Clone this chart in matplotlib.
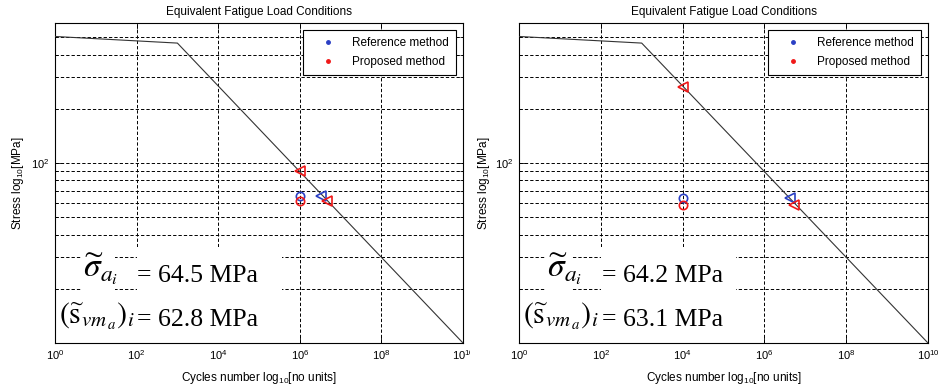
import matplotlib
matplotlib.use("Agg")
import matplotlib.pyplot as plt
from matplotlib.lines import Line2D
from matplotlib.patches import Rectangle
from matplotlib.ticker import FixedLocator, NullLocator, NullFormatter, LogLocator, LogFormatterSciNotation

plt.rcParams['font.family'] = ['Liberation Sans', 'DejaVu Sans']

# S-N curve (cycles, stress amplitude in MPa)
curve_cycles = [1.0, 1.0e3, 1.0e10]
curve_stress = [505.0, 464.0, 10.0]

# Equivalent cycle count used for the circles in each panel
eq_cycles = [1.0e6, 1.0e4]

# Reference method: equivalent stress and life on the S-N curve
ref_stress = [65.9, 63.6]
ref_life = [3.4e6, 4.2e6]

# Proposed method: equivalent stress and life on the S-N curve
prop_stress = [61.3, 58.8]
prop_life = [4.7e6, 5.2e6]

# Load level at the equivalent cycle count
load_stress = [90.0, 265.0]

# Values quoted in the annotations
sigma_values = [64.5, 64.2]
svm_values = [62.8, 63.1]

BLUE = '#2a3fc4'
RED = '#f01818'

fig = plt.figure(figsize=(9.38, 3.89), dpi=100)
ax_left = fig.add_axes([55 / 938, 46 / 389, 408 / 938, 320 / 389])
ax_right = fig.add_axes([519 / 938, 46 / 389, 409 / 938, 320 / 389])

panels = [
    (ax_left, 0, dict(sig_x=0.112, eq_x=0.201, s_x=0.010,
                      rects=[(0.064, 0.083), (0.201, 0.355)], rect_c=0.201,
                      ylab_x=-0.072)),
    (ax_right, 1, dict(sig_x=0.112, eq_x=0.203, s_x=0.010,
                       rects=[(0.064, 0.066), (0.200, 0.331)], rect_c=0.200,
                       ylab_x=-0.066)),
]

for ax, i, lay in panels:
    ax.set_xscale('log')
    ax.set_yscale('log')
    ax.set_xlim(1, 1e10)
    ax.set_ylim(10, 600)

    ax.xaxis.set_major_locator(FixedLocator([10.0 ** k for k in range(0, 11, 2)]))
    ax.xaxis.set_minor_locator(NullLocator())
    ax.xaxis.set_major_formatter(LogFormatterSciNotation())
    ax.yaxis.set_major_locator(FixedLocator([100.0]))
    ax.yaxis.set_minor_locator(LogLocator(base=10, subs=range(2, 10)))
    ax.yaxis.set_minor_formatter(NullFormatter())
    ax.yaxis.set_major_formatter(LogFormatterSciNotation())

    ax.tick_params(which='both', direction='in', top=True, right=True,
                   width=0.6, colors='black', labelsize=8)
    ax.tick_params(which='major', length=4, pad=4)
    ax.tick_params(which='minor', length=2)

    dash = (0, (3.4, 2.1))
    ax.grid(True, which='major', axis='both', linestyle=dash, linewidth=0.7, color='black')
    ax.grid(True, which='minor', axis='y', linestyle=dash, linewidth=0.7, color='black')

    for sp in ax.spines.values():
        sp.set_linewidth(0.8)
        sp.set_color('black')

    # S-N curve
    ax.plot(curve_cycles, curve_stress, color='#333333', linewidth=0.8, zorder=3)

    # Equivalent points
    ax.plot([eq_cycles[i]], [ref_stress[i]], 'o', ms=6, mfc='none', mec=BLUE, mew=1.2, zorder=5)
    ax.plot([eq_cycles[i]], [prop_stress[i]], 'o', ms=6, mfc='none', mec=RED, mew=1.2, zorder=5)
    ax.plot([ref_life[i]], [ref_stress[i]], '<', ms=7.5, mfc='none', mec=BLUE, mew=1.2, zorder=5)
    ax.plot([prop_life[i]], [prop_stress[i]], '<', ms=7.5, mfc='none', mec=RED, mew=1.2, zorder=5)
    ax.plot([eq_cycles[i]], [load_stress[i]], '<', ms=7.5, mfc='none', mec=RED, mew=1.2, zorder=5)

    ax.set_title('Equivalent Fatigue Load Conditions', fontsize=8.5, pad=6)
    ax.set_xlabel(r'Cycles number log$_{\mathdefault{10}}$[no units]', fontsize=8.5)
    ax.set_ylabel(r'Stress log$_{\mathdefault{10}}$[MPa]', fontsize=8.5)
    ax.xaxis.set_label_coords(0.5, -0.085)
    ax.yaxis.set_label_coords(lay['ylab_x'], 0.5)

    handles = [Line2D([], [], marker='.', ls='none', color=BLUE, ms=5),
               Line2D([], [], marker='.', ls='none', color=RED, ms=5)]
    leg = ax.legend(handles, ['Reference method', 'Proposed method'], loc='upper right',
                    fontsize=8.5, frameon=True, fancybox=False, framealpha=1,
                    edgecolor='black', borderpad=0.6, labelspacing=0.55,
                    handlelength=3.2, handletextpad=0.4, borderaxespad=0.6)
    leg.get_frame().set_linewidth(0.8)

    # White backing behind the annotations
    (ax_a, w_a), (ax_b, w_b) = lay['rects']
    for x0, w, y0, h in [(ax_a, w_a, 0.159, 0.141), (ax_b, w_b, 0.0, 0.30), (0.0, lay['rect_c'], 0.0, 0.159)]:
        ax.add_patch(Rectangle((x0, y0), w, h, transform=ax.transAxes,
                               facecolor='white', edgecolor='none', zorder=2.2))

    ax.text(lay['sig_x'], 0.205, r'$\widetilde{\sigma}_{a_i}$', transform=ax.transAxes,
            fontsize=24, math_fontfamily='stix', ha='center', va='baseline', zorder=4)
    ax.text(lay['eq_x'], 0.191, f'= {sigma_values[i]:.1f} MPa', transform=ax.transAxes,
            family='Liberation Serif', fontsize=18.5, ha='left', va='baseline', zorder=4)
    ax.text(lay['s_x'], 0.062, r'$(\widetilde{\mathrm{s}}_{vm_{\,a}})_{i}$', transform=ax.transAxes,
            fontsize=21.5, math_fontfamily='stix', ha='left', va='baseline', zorder=4)
    ax.text(lay['eq_x'], 0.053, f'= {svm_values[i]:.1f} MPa', transform=ax.transAxes,
            family='Liberation Serif', fontsize=18.5, ha='left', va='baseline', zorder=4)

# Gap between the two panels
fig.add_artist(Rectangle((470 / 938, 0), 6 / 938, 50 / 389, transform=fig.transFigure,
                         facecolor='white', edgecolor='none', zorder=10))

fig.savefig('out.png', dpi=100, facecolor='white')
